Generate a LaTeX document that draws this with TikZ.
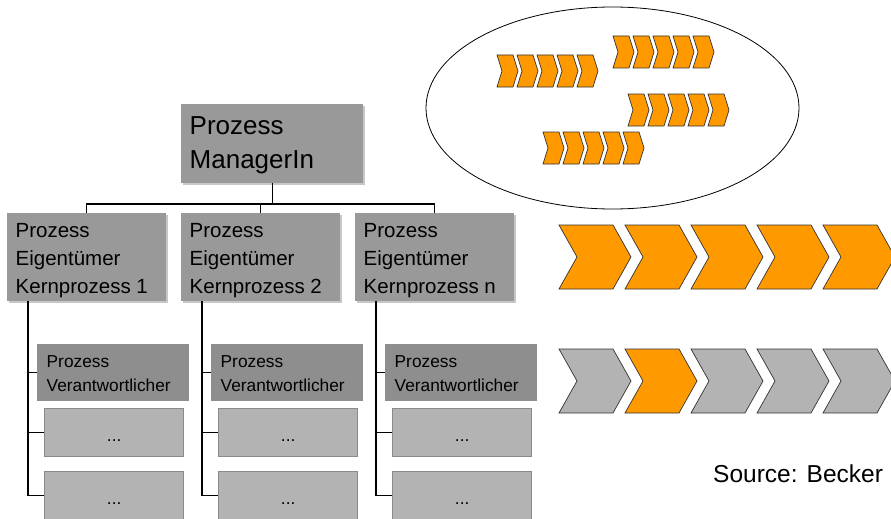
\documentclass[tikz,border=0pt]{standalone}
\usepackage{fontspec}
\setmainfont{Liberation Sans}
\usetikzlibrary{calc,shadows}

\definecolor{boxgray}{HTML}{999999}
\definecolor{pvgray}{HTML}{8E8E8E}
\definecolor{dotgray}{HTML}{B3B3B3}
\definecolor{dotedge}{HTML}{8A8A8A}
\definecolor{chevorange}{HTML}{FF9900}
\definecolor{chevgray}{HTML}{B3B3B3}
\definecolor{chevline}{HTML}{333333}

% one chevron: left x, top y, height, flat length, tip length, fill colour
\newcommand\chevron[6]{%
  \filldraw[chevedge, fill=#6] (#1,#2) -- ++(#4,0) -- ++(#5,#3/2) -- ++(-#5,#3/2)
    -- ++(-#4,0) -- ++(#5,-#3/2) -- cycle;}
% a row of five small chevrons
\newcommand\smallchevrow[2]{%
  \foreach \i in {0,...,4} {\chevron{#1+20*\i}{#2}{32}{16}{5}{chevorange}}}

\begin{document}
\begin{tikzpicture}[x=1pt,y=-1pt,
  chevedge/.style={draw=chevline, line width=0.7pt, line join=miter},
  boxbase/.style={rectangle, inner sep=0pt, anchor=north west},
  mgrbox/.style={boxbase, fill=boxgray, minimum width=182pt, minimum height=79pt,
    drop shadow={shadow xshift=1.5pt, shadow yshift=-1.5pt, fill=black!22, opacity=1}},
  ownerbox/.style={boxbase, fill=boxgray, minimum width=159pt, minimum height=88pt,
    drop shadow={shadow xshift=1.5pt, shadow yshift=-1.5pt, fill=black!22, opacity=1}},
  pvbox/.style={boxbase, fill=pvgray, minimum width=152pt, minimum height=57pt},
  dotbox/.style={boxbase, fill=dotgray, draw=dotedge, line width=1.4pt,
    minimum width=139pt, minimum height=48pt},
  boxtext/.style={anchor=base west, inner sep=0pt, text=black},
  mgrfont/.style={font=\fontsize{26}{34}\selectfont},
  ownerfont/.style={font=\fontsize{20.5}{27.7}\selectfont},
  pvfont/.style={font=\fontsize{17.3}{24}\selectfont},
  srcfont/.style={font=\fontsize{24.5}{30}\selectfont},
  orgline/.style={draw=black, line width=1.1pt},
]
\useasboundingbox (0,0) rectangle (891,519);

% top manager
\node[mgrbox] (mgr) at (181,104) {};
\node[boxtext, mgrfont] (mgrtext) at ($(mgr.north west)+(8.5,30)$)
  {\vtop{\hbox{Prozess}\hbox{ManagerIn}}};

% owners of the core processes and their sub-structures
\foreach \n/\lbl [count=\c from 0] in {1/Kernprozess 1, 2/Kernprozess 2, 3/Kernprozess n} {
  \node[ownerbox] (k\n) at (7+174*\c,213) {};
  \node[boxtext, ownerfont] (k\n text) at ($(k\n.north west)+(8.5,24.7)$)
    {\vtop{\hbox{Prozess}\hbox{Eigentümer}\hbox{\lbl}}};
  \node[pvbox] (p\n) at (37+174*\c,344) {};
  \node[boxtext, pvfont] (p\n text) at ($(p\n.north west)+(9.5,23)$)
    {\vtop{\hbox{Prozess}\hbox{Verantwortlicher}}};
  \node[dotbox] (d\n a) at (44+174*\c,408) {};
  \node[dotbox] (d\n b) at (44+174*\c,471) {};
  \node[boxtext, pvfont, anchor=base] (d\n atext) at ($(d\n a.center)+(0,9)$) {...};
  \node[boxtext, pvfont, anchor=base] (d\n btext) at ($(d\n b.center)+(0,9)$) {...};
  % spine below the owner box with its branches
  \coordinate (s\n) at ($(k\n.south west)+(21,0)$);
  \draw[orgline] (s\n) |- (d\n b.west);
  \draw[orgline] (s\n |- p\n.west) -- (p\n.west);
  \draw[orgline] (s\n |- d\n a.west) -- (d\n a.west);
}

% bus from the manager to the owners
\coordinate (bus) at (0,204);
\draw[orgline] (mgr.south) -- (mgr.south |- bus);
\draw[orgline] (k1.north) -- (k1.north |- bus) -- (k3.north |- bus) -- (k3.north);
\draw[orgline] (k2.north) -- (k2.north |- bus);

% loose processes inside the ellipse
\draw[line width=0.8pt] (612.5,108) ellipse [x radius=186.5, y radius=101];
\smallchevrow{497}{55}
\smallchevrow{613}{36}
\smallchevrow{628}{94}
\smallchevrow{543}{132}

% full process chain
\foreach \i in {0,...,4} {\chevron{559+66*\i}{225}{64}{54}{18}{chevorange}}

% process chain with one highlighted step
\foreach \i/\c in {0/chevgray,1/chevorange,2/chevgray,3/chevgray,4/chevgray}
  {\chevron{559+66*\i}{349}{64}{54}{18}{\c}}

\node[boxtext, srcfont] (src) at (713,482) {Source: Becker};
\end{tikzpicture}
\end{document}
